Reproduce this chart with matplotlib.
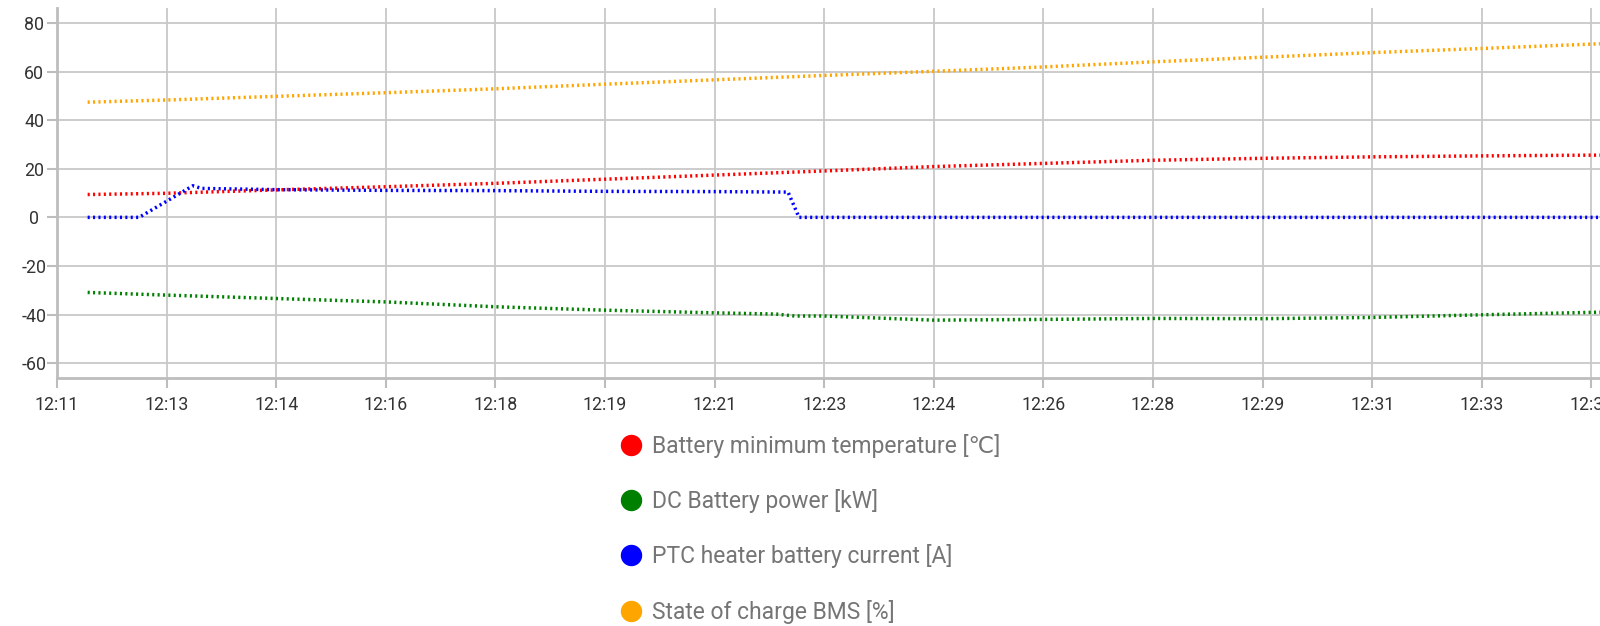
import matplotlib
matplotlib.use("Agg")
import matplotlib.pyplot as plt
from matplotlib.lines import Line2D

plt.rcParams['font.family'] = ['Roboto', 'DejaVu Sans']
plt.rcParams['axes.unicode_minus'] = False

# time axis: seconds after 12:11:20 (ticks every 100 s)
tick_seconds = list(range(0, 1401, 100))
tick_labels = ["12:11", "12:13", "12:14", "12:16", "12:18", "12:19", "12:21",
               "12:23", "12:24", "12:26", "12:28", "12:29", "12:31", "12:33", "12:34"]

# state of charge and battery min temperature share the same sample times
t_main = [28, 100, 200, 300, 400, 500, 600, 700, 800, 900, 1000, 1100, 1200, 1300, 1400, 1412]
soc = [47.4, 48.3, 49.8, 51.3, 52.9, 54.8, 56.6, 58.4, 60.1, 61.9, 64.0, 65.9, 67.8, 69.5, 71.3, 71.5]
bat_temp = [9.4, 9.9, 11.3, 12.6, 14.0, 15.7, 17.4, 19.1, 20.9, 22.2, 23.5, 24.3, 24.9, 25.3, 25.6, 25.6]

t_power = [28, 100, 200, 300, 400, 500, 600, 656, 673, 700, 800, 900, 1000, 1100, 1200, 1300, 1400, 1412]
dc_power = [-30.9, -32.0, -33.4, -34.8, -36.8, -38.2, -39.3, -39.8, -40.6, -40.6, -42.3, -42.0,
            -41.6, -41.7, -41.2, -40.1, -39.1, -39.0]

t_ptc = [28, 75, 124, 132, 200, 300, 400, 500, 600, 667, 677, 1412]
ptc_current = [0, 0, 13.0, 11.9, 11.4, 11.1, 11.0, 10.7, 10.6, 10.4, 0, 0]

labels = ["Battery minimum temperature [℃]", "DC Battery power [kW]",
          "PTC heater battery current [A]", "State of charge BMS [%]"]
colors = ["red", "green", "blue", "orange"]

fig = plt.figure(figsize=(16, 6.26), dpi=100)
ax = fig.add_axes([0.0356, 0.3966, 0.9673, 0.590])

dots = (0, (0.6, 0.95))
series = [(t_main, bat_temp), (t_power, dc_power), (t_ptc, ptc_current), (t_main, soc)]
for (x, y), c in zip(series, colors):
    ax.plot(x, y, color=c, lw=2.5, linestyle=dots, dash_capstyle='butt')

ax.set_xlim(0, 1412)
ax.set_ylim(-66, 86)
ax.set_xticks(tick_seconds, tick_labels)
ax.set_yticks([-60, -40, -20, 0, 20, 40, 60, 80])

ax.set_axisbelow(True)
ax.grid(True, color='#c8c8c8', lw=1.3)
for s in ['top', 'right']:
    ax.spines[s].set_visible(False)
for s in ['left', 'bottom']:
    ax.spines[s].set_color('#bdbdbd')
    ax.spines[s].set_linewidth(2)

ax.tick_params(axis='both', colors='#bdbdbd', length=7, width=1.5,
               labelcolor='#333333', labelsize=12.8)
ax.tick_params(axis='x', pad=6)
ax.tick_params(axis='y', pad=9.4)
for lbl in ax.get_yticklabels():
    lbl.set_horizontalalignment('center')

handles = [Line2D([], [], marker='o', ls='', color=c, markersize=14.4) for c in colors]
leg = ax.legend(handles, labels, loc='upper left', bbox_to_anchor=(0.387, 0.3066),
                bbox_transform=fig.transFigure, frameon=False, fontsize=16.5,
                handlelength=1.0, handletextpad=0.42, labelspacing=1.36,
                borderpad=0, borderaxespad=0)
for txt in leg.get_texts():
    txt.set_color('#757575')

fig.savefig("out.png", dpi=100, facecolor='white')
